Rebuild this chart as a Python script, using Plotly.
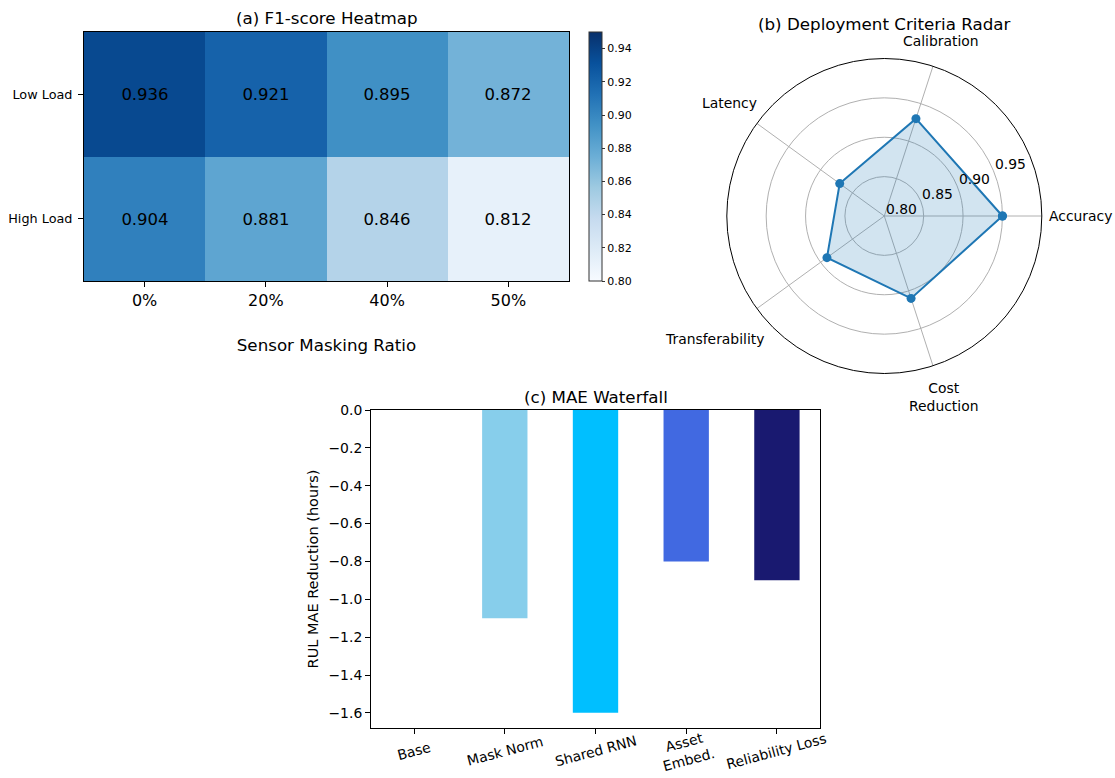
import math
import plotly.graph_objects as go

# ---- data -------------------------------------------------------------
mask_ratios = ["0%", "20%", "40%", "50%"]
load_levels = ["Low Load", "High Load"]
f1_low_load = [0.936, 0.921, 0.895, 0.872]
f1_high_load = [0.904, 0.881, 0.846, 0.812]

criteria = ["Accuracy", "Calibration", "Latency", "Transferability", "Cost<br>Reduction"]
criteria_scores = [0.90, 0.88, 0.82, 0.84, 0.86]
radial_ticks = [0.80, 0.85, 0.90, 0.95]

stages = ["Base", "Mask Norm", "Shared RNN", "Asset<br>Embed.", "Reliability Loss"]
mae_delta = [0.0, -1.1, -1.6, -0.8, -0.9]
stage_colors = ["gray", "#87CEEB", "#00BFFF", "#4169E1", "#191970"]
mae_ticks = [0.0, -0.2, -0.4, -0.6, -0.8, -1.0, -1.2, -1.4, -1.6]

cbar_ticks = [0.80, 0.82, 0.84, 0.86, 0.88, 0.90, 0.92, 0.94]

# ColorBrewer "Blues" (light -> dark)
blues = ["#f7fbff", "#deebf7", "#c6dbef", "#9ecae1", "#6baed6",
         "#4292c6", "#2171b5", "#08519c", "#08306b"]
blues_scale = [[i / (len(blues) - 1), c] for i, c in enumerate(blues)]

FONT = "DejaVu Sans"
W, H = 1115, 778
LABEL_SIZE = 13.9


def px_x(v):
    return v / W


def px_y(v):
    return 1 - v / H


# approximate DejaVu Sans advance widths (em) for label layout
_ADV = {"A": .684, "C": .698, "L": .557, "R": .695, "T": .611, "a": .613, "b": .635,
        "c": .550, "d": .635, "e": .615, "f": .352, "i": .278, "l": .278, "n": .634,
        "o": .612, "r": .411, "s": .521, "t": .392, "u": .634, "y": .592, " ": .318}


def text_box(label, size):
    lines = label.split("<br>")
    width = max(sum(_ADV.get(ch, 0.6) for ch in ln) for ln in lines) * size
    height = len(lines) * size * 1.17
    return width, height


# radar geometry (pixels)
CX, CY, R = 884.3, 216.0, 157.5
R_MIN, R_MAX = 0.75, 0.95

fig = go.Figure()

# ---- (a) heatmap ------------------------------------------------------
fig.add_trace(go.Heatmap(
    x=mask_ratios,
    y=load_levels,
    z=[f1_low_load, f1_high_load],
    colorscale=blues_scale,
    zmin=0.80, zmax=0.95,
    texttemplate="%{z:.3f}",
    textfont=dict(family=FONT, size=16.5, color="black"),
    xaxis="x", yaxis="y",
    colorbar=dict(
        x=px_x(589), xanchor="left", xpad=0, ypad=0,
        y=(px_y(281) + px_y(32)) / 2, yanchor="middle",
        len=(281 - 32) / H, lenmode="fraction",
        thickness=13, outlinewidth=1, outlinecolor="#333",
        tickvals=cbar_ticks, tickformat=".2f",
        ticks="outside", ticklen=3, tickcolor="#333",
        tickfont=dict(family=FONT, size=11, color="black"),
    ),
))

# ---- (b) radar --------------------------------------------------------
fig.add_trace(go.Scatterpolar(
    r=criteria_scores + criteria_scores[:1],
    theta=criteria + criteria[:1],
    mode="lines+markers",
    fill="toself",
    fillcolor="rgba(31,119,180,0.2)",
    line=dict(color="#1f77b4", width=2),
    marker=dict(color="#1f77b4", size=9),
    subplot="polar",
    showlegend=False,
))

# ---- (c) waterfall ----------------------------------------------------
fig.add_trace(go.Bar(
    x=list(range(len(stages))),
    y=mae_delta,
    width=0.5,
    marker=dict(color=stage_colors, line=dict(width=0)),
    xaxis="x2", yaxis="y2",
    showlegend=False,
))

axis_common = dict(
    showline=True, mirror=True, linecolor="black", linewidth=1,
    ticks="outside", ticklen=5, tickwidth=1, tickcolor="black",
    showgrid=False, zeroline=False,
)

annotations = [
    dict(text="(a) F1-score Heatmap", x=(px_x(84) + px_x(569)) / 2, y=px_y(18),
         xref="paper", yref="paper", showarrow=False,
         xanchor="center", yanchor="middle", font=dict(size=16.7)),
    dict(text="(b) Deployment Criteria Radar", x=px_x(CX), y=px_y(24),
         xref="paper", yref="paper", showarrow=False,
         xanchor="center", yanchor="middle", font=dict(size=16.7)),
    dict(text="(c) MAE Waterfall", x=(px_x(371) + px_x(820)) / 2, y=px_y(397),
         xref="paper", yref="paper", showarrow=False,
         xanchor="center", yanchor="middle", font=dict(size=16.7)),
]

# radar category labels, pushed just outside the outer ring
n_cat = len(criteria)
for i, label in enumerate(criteria):
    ang = 2 * math.pi * i / n_cat
    w, h = text_box(label, LABEL_SIZE)
    d = R + 7 + (w / 2) * abs(math.cos(ang)) + (h / 2) * abs(math.sin(ang))
    annotations.append(dict(
        text=label, x=px_x(CX + d * math.cos(ang)), y=px_y(CY - d * math.sin(ang)),
        xref="paper", yref="paper", showarrow=False, align="center",
        xanchor="center", yanchor="middle", font=dict(size=LABEL_SIZE),
    ))

# radial tick labels along the 22.5 degree direction
rl_ang = math.radians(22.5)
for tv in radial_ticks:
    rp = (tv - R_MIN) / (R_MAX - R_MIN) * R - 21
    annotations.append(dict(
        text=f"{tv:.2f}", x=px_x(CX + rp * math.cos(rl_ang)),
        y=px_y(CY - rp * math.sin(rl_ang)),
        xref="paper", yref="paper", showarrow=False,
        xanchor="center", yanchor="middle", font=dict(size=LABEL_SIZE),
    ))

# waterfall stage labels, rotated and centred under each tick
for i, label in enumerate(stages):
    annotations.append(dict(
        text=label, x=i, xref="x2", y=px_y(751), yref="paper",
        showarrow=False, textangle=-15, align="center",
        xanchor="center", yanchor="middle", font=dict(size=LABEL_SIZE),
    ))

fig.update_layout(
    width=W, height=H,
    margin=dict(l=0, r=0, t=0, b=0, pad=0, autoexpand=False),
    paper_bgcolor="white", plot_bgcolor="white",
    font=dict(family=FONT, color="black"),
    showlegend=False,
    xaxis=dict(
        domain=[px_x(84), px_x(569)], anchor="y",
        tickfont=dict(size=16),
        title=dict(text="Sensor Masking Ratio", font=dict(size=16.7), standoff=30),
        **axis_common,
    ),
    yaxis=dict(
        domain=[px_y(281), px_y(32)], anchor="x",
        autorange="reversed",
        tickfont=dict(size=12.8),
        ticklabelstandoff=3,
        **axis_common,
    ),
    xaxis2=dict(
        domain=[px_x(371), px_x(820)], anchor="y2",
        range=[-0.475, len(stages) - 0.525],
        tickvals=list(range(len(stages))), showticklabels=False,
        **axis_common,
    ),
    yaxis2=dict(
        domain=[px_y(728), px_y(410)], anchor="x2",
        range=[-1.68, 0.0],
        tickvals=mae_ticks, tickformat=".1f",
        tickfont=dict(size=13.9),
        title=dict(text="RUL MAE Reduction (hours)", font=dict(size=14.5), standoff=6),
        **axis_common,
    ),
    polar=dict(
        domain=dict(x=[px_x(CX - R), px_x(CX + R)],
                    y=[px_y(CY + R), px_y(CY - R)]),
        bgcolor="white",
        radialaxis=dict(
            range=[R_MIN, R_MAX], tickvals=radial_ticks,
            angle=22.5, showline=False, ticks="", showticklabels=False,
            gridcolor="#b0b0b0", gridwidth=1,
        ),
        angularaxis=dict(
            rotation=0, direction="counterclockwise",
            showline=True, linecolor="black", linewidth=1,
            gridcolor="#b0b0b0", gridwidth=1, ticks="", showticklabels=False,
        ),
    ),
    annotations=annotations,
)

fig.write_html("out.html")
